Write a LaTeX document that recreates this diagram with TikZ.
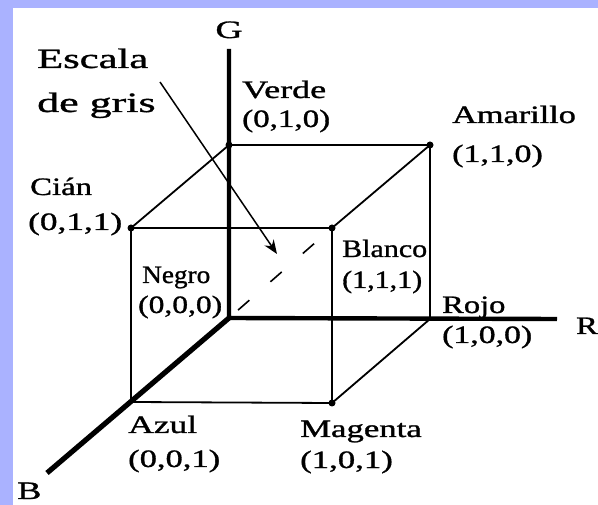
\documentclass[tikz,border=0pt]{standalone}
\usepackage{fontspec}
\setmainfont[FakeBold=1]{Liberation Serif}
\usetikzlibrary{arrows.meta}
\definecolor{lav}{RGB}{170,178,255}
\newcommand{\sxb}[2]{\scalebox{#1}[1]{#2}}
\begin{document}
\begin{tikzpicture}[x=1pt,y=-1pt,
  lbl/.style={anchor=base west, inner sep=0pt, font=\fontsize{25}{25}\selectfont},
  biglbl/.style={anchor=base west, inner sep=0pt, font=\fontsize{28}{28}\selectfont},
  axlbl/.style={anchor=base west, inner sep=0pt, font=\fontsize{25}{25}\selectfont},
  edge/.style={line width=1.8pt},
  axisline/.style={line width=4.4pt, line join=miter},
  dot/.style={circle, fill=black, inner sep=0pt, minimum size=7pt}]
\useasboundingbox (0,0) rectangle (598,505);
\fill[lav] (0,0) rectangle (598,505);
\fill[white] (13,8) rectangle (598,505);
% corners
\coordinate (negro) at (229,318);
\coordinate (verde) at (229,145);
\coordinate (amarillo) at (430,145);
\coordinate (rojo) at (430,319);
\coordinate (cian) at (131,228);
\coordinate (blanco) at (332,228);
\coordinate (magenta) at (332,403);
\coordinate (azul) at (131,402);
\coordinate (gend) at (229,49);
\coordinate (rend) at (557,319);
\coordinate (bend) at (47,473);
\coordinate (arrstart) at (160,82);
\coordinate (arrend) at (277,254);
% cube edges
\draw[edge] (verde) -- (amarillo) -- (rojo);
\draw[edge] (verde) -- (cian);
\draw[edge] (amarillo) -- (blanco);
\draw[edge] (cian) -- (blanco) -- (magenta) -- (azul) -- (cian);
\draw[edge] (rojo) -- (magenta);
% gray scale diagonal
\draw[line width=1.6pt, dash pattern=on 15pt off 28pt, dash phase=31pt] (negro) -- (blanco);
% axes
\draw[axisline] (gend) -- (negro) -- (rend);
\draw[line width=5.2pt] (negro) -- (bend);
% dots
\node[dot] (dverde) at (verde) {};
\node[dot] (damarillo) at (amarillo) {};
\node[dot] (dcian) at (cian) {};
\node[dot] (dblanco) at (blanco) {};
\node[dot] (dmagenta) at (magenta) {};
% arrow
\draw[line width=1.5pt, -{Stealth[length=14pt,width=11pt]}] (arrstart) -- (arrend);
% axis labels
\node[axlbl, anchor=base] (lg) at (229,38) {\sxb{1.5}{G}};
\node[axlbl] (lr) at (576,334) {\sxb{1.3}{R}};
\node[axlbl] (lb) at (17,499) {\sxb{1.45}{B}};
% escala
\node[biglbl] (lesc) at (37,68) {\sxb{1.52}{Escala}};
\node[biglbl] (lgris) at (37,112) {\sxb{1.57}{de gris}};
% corner labels
\node[lbl] (lverde) at (242,98) {\sxb{1.44}{Verde}};
\node[lbl] (cverde) at (242,127) {\sxb{1.32}{(0,1,0)}};
\node[lbl] (lamar) at (452,123) {\sxb{1.37}{Amarillo}};
\node[lbl] (camar) at (452,162) {\sxb{1.36}{(1,1,0)}};
\node[lbl] (lcian) at (30,195) {\sxb{1.31}{Cián}};
\node[lbl] (ccian) at (28,230) {\sxb{1.41}{(0,1,1)}};
\node[lbl] (lnegro) at (142,283) {\sxb{1.09}{Negro}};
\node[lbl] (cnegro) at (138,313) {\sxb{1.26}{(0,0,0)}};
\node[lbl] (lblanco) at (342,257) {\sxb{1.2}{Blanco}};
\node[lbl] (cblanco) at (342,288) {\sxb{1.2}{(1,1,1)}};
\node[lbl] (lrojo) at (442,313) {\sxb{1.3}{Rojo}};
\node[lbl] (crojo) at (442,343) {\sxb{1.35}{(1,0,0)}};
\node[lbl] (lazul) at (128,433) {\sxb{1.42}{Azul}};
\node[lbl] (cazul) at (128,467) {\sxb{1.38}{(0,0,1)}};
\node[lbl] (lmag) at (300,437) {\sxb{1.39}{Magenta}};
\node[lbl] (cmag) at (300,468) {\sxb{1.39}{(1,0,1)}};
\end{tikzpicture}
\end{document}
